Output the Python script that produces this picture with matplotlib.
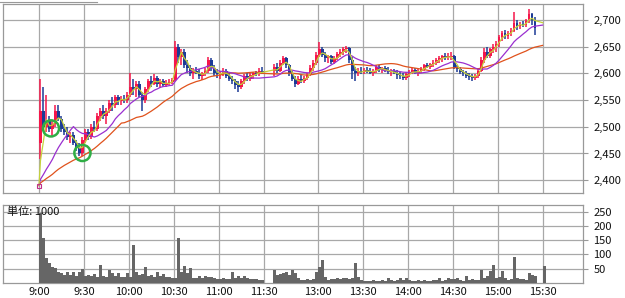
import numpy as np
import pandas as pd
import matplotlib
matplotlib.use("Agg")
import matplotlib.pyplot as plt
from matplotlib.lines import Line2D

plt.rcParams['font.family'] = ['Noto Sans CJK JP', 'DejaVu Sans']

# ---------------- data ----------------
prev_close = 2390
closing_price = 2700
closing_volume = 60

# morning session, 2-minute bars 9:00 - 11:28
am_open = [2470, 2530, 2500, 2510, 2495, 2505, 2530, 2515, 2495, 2490,
           2480, 2485, 2470, 2460, 2450, 2475, 2490, 2480, 2500, 2495,
           2520, 2530, 2520, 2530, 2545, 2540, 2555, 2548, 2552, 2550,
           2560, 2575, 2570, 2580, 2560, 2550, 2570, 2585, 2580, 2592,
           2580, 2585, 2578, 2582, 2584, 2588, 2650, 2630, 2640, 2615,
           2610, 2600, 2605, 2600, 2595, 2600, 2605, 2625, 2610, 2600,
           2598, 2600, 2605, 2596, 2590, 2585, 2578, 2575, 2585, 2595,
           2590, 2597, 2600, 2598, 2605]
am_high = [2590, 2575, 2560, 2520, 2510, 2540, 2540, 2520, 2505, 2500,
           2490, 2490, 2475, 2470, 2480, 2495, 2495, 2505, 2510, 2525,
           2535, 2540, 2535, 2550, 2555, 2560, 2560, 2558, 2560, 2565,
           2600, 2590, 2585, 2585, 2565, 2575, 2590, 2595, 2598, 2595,
           2590, 2590, 2588, 2590, 2592, 2660, 2655, 2645, 2645, 2625,
           2615, 2610, 2612, 2608, 2603, 2610, 2630, 2628, 2615, 2608,
           2605, 2610, 2608, 2600, 2595, 2590, 2585, 2590, 2598, 2600,
           2600, 2602, 2605, 2610, 2612]
am_low = [2440, 2495, 2490, 2490, 2480, 2500, 2510, 2490, 2485, 2475,
          2470, 2465, 2455, 2445, 2445, 2470, 2475, 2478, 2490, 2492,
          2510, 2515, 2505, 2525, 2530, 2535, 2540, 2540, 2545, 2545,
          2555, 2560, 2555, 2555, 2530, 2545, 2565, 2575, 2578, 2575,
          2572, 2575, 2574, 2578, 2580, 2585, 2620, 2615, 2610, 2600,
          2595, 2590, 2598, 2590, 2588, 2595, 2600, 2605, 2595, 2592,
          2590, 2595, 2592, 2585, 2580, 2570, 2565, 2570, 2580, 2585,
          2585, 2590, 2595, 2595, 2598]
am_close = [2530, 2500, 2510, 2495, 2505, 2530, 2515, 2495, 2490, 2480,
            2485, 2470, 2460, 2450, 2475, 2490, 2480, 2500, 2495, 2520,
            2530, 2520, 2530, 2545, 2540, 2555, 2548, 2552, 2550, 2560,
            2575, 2570, 2580, 2560, 2550, 2570, 2585, 2580, 2592, 2580,
            2585, 2578, 2582, 2584, 2588, 2650, 2630, 2640, 2615, 2610,
            2600, 2605, 2600, 2595, 2600, 2605, 2625, 2610, 2600, 2598,
            2600, 2605, 2596, 2590, 2585, 2578, 2575, 2585, 2595, 2590,
            2597, 2600, 2598, 2605, 2603]
am_volume = [245, 157, 88, 70, 56, 52, 40, 35, 28, 40,
             28, 40, 25, 40, 49, 24, 28, 24, 30, 22,
             63, 24, 20, 45, 35, 24, 35, 22, 21, 35,
             21, 133, 40, 28, 30, 56, 24, 28, 22, 40,
             24, 30, 20, 20, 18, 18, 157, 40, 60, 35,
             52, 18, 17, 24, 17, 24, 20, 22, 17, 14,
             14, 18, 14, 14, 40, 17, 25, 18, 25, 17,
             14, 14, 14, 12, 12]

# afternoon session, 2-minute bars 12:30 - 15:24
pm_open = [2605, 2612, 2605, 2620, 2628, 2615, 2600, 2590, 2580, 2590,
           2585, 2592, 2597, 2610, 2620, 2635, 2645, 2635, 2628, 2632,
           2622, 2628, 2636, 2640, 2645, 2648, 2625, 2605, 2600, 2605,
           2602, 2606, 2605, 2600, 2604, 2612, 2606, 2610, 2605, 2602,
           2604, 2600, 2597, 2595, 2592, 2598, 2602, 2606, 2600, 2604,
           2608, 2615, 2612, 2618, 2620, 2625, 2628, 2632, 2630, 2630,
           2632, 2610, 2608, 2602, 2600, 2596, 2594, 2592, 2595, 2605,
           2625, 2640, 2632, 2645, 2650, 2655, 2668, 2675, 2670, 2676,
           2680, 2695, 2688, 2692, 2690, 2698, 2712, 2700]
pm_high = [2618, 2620, 2625, 2632, 2630, 2618, 2605, 2595, 2595, 2598,
           2595, 2600, 2615, 2625, 2640, 2658, 2650, 2640, 2635, 2635,
           2632, 2640, 2645, 2650, 2652, 2650, 2630, 2612, 2610, 2612,
           2610, 2612, 2610, 2608, 2615, 2615, 2612, 2614, 2612, 2608,
           2608, 2606, 2603, 2600, 2602, 2606, 2610, 2610, 2608, 2612,
           2618, 2620, 2620, 2625, 2628, 2632, 2635, 2638, 2638, 2640,
           2634, 2615, 2612, 2606, 2604, 2600, 2598, 2598, 2610, 2630,
           2648, 2650, 2648, 2655, 2660, 2672, 2680, 2682, 2680, 2685,
           2715, 2700, 2696, 2698, 2702, 2720, 2714, 2705]
pm_low = [2595, 2600, 2603, 2615, 2610, 2595, 2585, 2575, 2578, 2582,
          2582, 2588, 2595, 2605, 2615, 2630, 2630, 2622, 2620, 2618,
          2618, 2625, 2630, 2635, 2638, 2620, 2590, 2585, 2595, 2598,
          2598, 2600, 2598, 2596, 2600, 2602, 2600, 2602, 2598, 2596,
          2598, 2590, 2590, 2588, 2588, 2594, 2598, 2598, 2596, 2600,
          2605, 2610, 2608, 2612, 2615, 2620, 2622, 2625, 2625, 2625,
          2608, 2602, 2598, 2595, 2592, 2588, 2585, 2588, 2592, 2603,
          2620, 2628, 2628, 2638, 2640, 2650, 2660, 2665, 2665, 2670,
          2678, 2682, 2684, 2686, 2686, 2695, 2690, 2672]
pm_close = [2612, 2605, 2620, 2628, 2615, 2600, 2590, 2580, 2590, 2585,
            2592, 2597, 2610, 2620, 2635, 2645, 2635, 2628, 2632, 2622,
            2628, 2636, 2640, 2645, 2648, 2625, 2605, 2600, 2605, 2602,
            2606, 2605, 2600, 2604, 2612, 2606, 2610, 2605, 2602, 2604,
            2600, 2597, 2595, 2592, 2598, 2602, 2606, 2600, 2604, 2608,
            2615, 2612, 2618, 2620, 2625, 2628, 2632, 2630, 2630, 2632,
            2610, 2608, 2602, 2600, 2596, 2594, 2592, 2595, 2605, 2625,
            2640, 2632, 2645, 2650, 2655, 2668, 2675, 2670, 2676, 2680,
            2695, 2688, 2692, 2690, 2698, 2712, 2700, 2685]
pm_volume = [45, 28, 30, 35, 38, 28, 45, 35, 17, 12,
             12, 14, 10, 14, 40, 56, 80, 20, 12, 14,
             14, 17, 14, 17, 17, 14, 17, 70, 20, 10,
             8, 8, 8, 12, 8, 8, 10, 8, 17, 10,
             8, 12, 17, 12, 17, 10, 8, 8, 10, 8,
             12, 8, 8, 12, 10, 18, 8, 10, 17, 14,
             14, 17, 10, 8, 24, 10, 14, 10, 10, 45,
             17, 24, 42, 63, 17, 22, 42, 17, 12, 14,
             90, 17, 14, 14, 10, 35, 28, 24]

tick_labels = ["9:00", "9:30", "10:00", "10:30", "11:00", "11:30",
               "13:00", "13:30", "14:00", "14:30", "15:00", "15:30"]
price_ticks = [2400, 2450, 2500, 2550, 2600, 2650, 2700]
volume_ticks = [50, 100, 150, 200, 250]
marked_points_t = [8, 29]          # green circles (session minutes)
marked_points_p = [2497, 2451]

# ---------------- time axis (session minutes, lunch compressed) ----------------
bar_min = 2
pm_start = 156        # 12:30 position (lunch break mostly removed)
am_t = np.arange(len(am_close)) * bar_min + 1.0
pm_t = pm_start + np.arange(len(pm_close)) * bar_min + 1.0
close_t = 336.0
tick_pos = [0, 30, 60, 90, 120, 150, 186, 216, 246, 276, 306, 336]

t = np.concatenate([am_t, pm_t])
o = np.array(am_open + pm_open, float)
h = np.array(am_high + pm_high, float)
l = np.array(am_low + pm_low, float)
c = np.array(am_close + pm_close, float)
v = np.array(am_volume + pm_volume, float)

# ---------------- figure ----------------
W, H = 625, 298
fig = plt.figure(figsize=(W / 100, H / 100), dpi=100)
fig.patch.set_facecolor('white')

def frac(x0, y0, x1, y1):
    return [x0 / W, 1 - y1 / H, (x1 - x0) / W, (y1 - y0) / H]

ax = fig.add_axes(frac(3, 4, 583, 193))
axv = fig.add_axes(frac(3, 205, 583, 283))

grid_c = '#a8a8a8'
up_c = '#f5164a'
dn_c = '#1c3b96'

for a in (ax, axv):
    a.set_xlim(-24, 363)
    for s in a.spines.values():
        s.set_color('#999999')
        s.set_linewidth(0.9)
    a.yaxis.tick_right()
    a.tick_params(axis='y', length=3.6, width=0.8, color='#999999',
                  pad=4, labelsize=8, labelcolor='#111111')
    a.set_xticks(tick_pos)
    a.grid(True, color=grid_c, linewidth=0.9)
    a.set_axisbelow(True)

ax.tick_params(axis='x', length=0, labelbottom=False)
axv.tick_params(axis='x', length=0, pad=3, labelsize=8, labelcolor='#111111')
axv.set_xticklabels(tick_labels)

# price panel
ax.set_ylim(2376, 2730)
ax.set_yticks(price_ticks)
ax.set_yticklabels([f"{p:,}" for p in price_ticks])

up = c >= o
cols = np.where(up, up_c, dn_c)
ax.vlines(t, l, h, colors=cols, linewidth=1.1, zorder=3)
body_bot = np.minimum(o, c)
body_h = np.maximum(np.abs(c - o), 2.0)
ax.bar(t, body_h, bottom=body_bot, width=1.9, color=cols, linewidth=0, zorder=3)

# moving averages (padded with previous close at the open)
closes_all = [prev_close] + list(am_close) + list(pm_close) + [closing_price]
t_all = np.concatenate([[0.0], t, [close_t]])

def moving_average(window):
    s = pd.Series([prev_close] * (window - 1) + closes_all, dtype=float)
    return s.rolling(window).mean().iloc[window - 1:].to_numpy()

ax.plot(t_all, moving_average(28), color='#e0521c', linewidth=0.9, zorder=4)
ax.plot(t_all, moving_average(12), color='#9a2fd0', linewidth=0.9, zorder=5)
ax.plot(t_all, moving_average(3), color='#c5d23a', linewidth=0.9, zorder=6)

ax.plot([0], [prev_close], marker='s', markersize=3.5, markerfacecolor='none',
        markeredgecolor='#c0308a', markeredgewidth=0.8, zorder=7)
ax.scatter(marked_points_t, marked_points_p, s=135, facecolors='none',
           edgecolors='#2fae45', linewidths=1.8, zorder=8)

# volume panel
axv.set_ylim(0, 273)
axv.set_yticks(volume_ticks)
axv.set_yticklabels([str(x) for x in volume_ticks])
axv.bar(t, v, width=2.0, color='#666666', linewidth=0, zorder=3)
axv.bar([close_t + 1.0], [closing_volume], width=2.0, color='#666666',
        linewidth=0, zorder=3)
axv.text(0.007, 0.91, "単位: 1000", transform=axv.transAxes, fontsize=8,
         va='center', ha='left', color='#111111', zorder=6)

# tab outline at the top left
fig.add_artist(Line2D([0, 97 / W], [1 - 1.5 / H, 1 - 1.5 / H],
                      color='#999999', linewidth=0.8))

fig.savefig("out.png", dpi=100, facecolor='white')
